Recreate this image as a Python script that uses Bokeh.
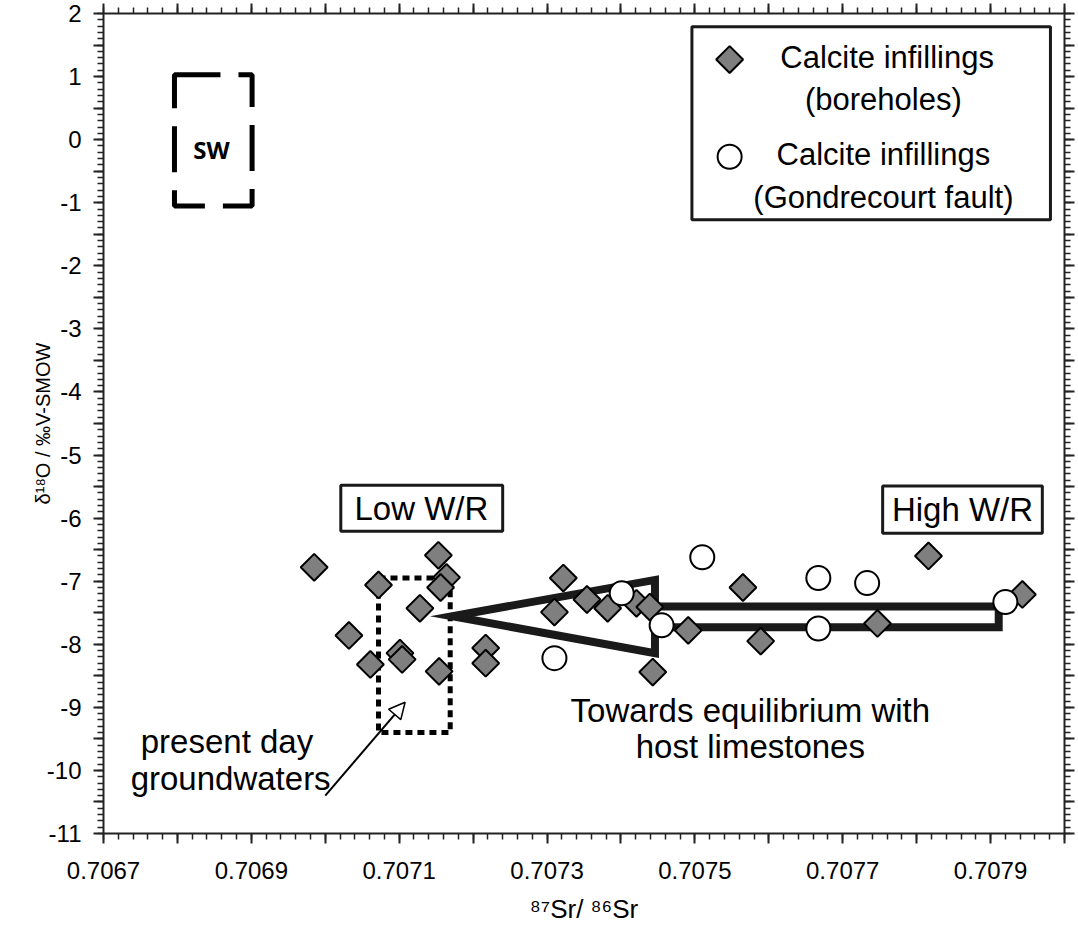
import numpy as np
from bokeh.plotting import figure
from bokeh.models import (Range1d, LinearAxis, FixedTicker, Arrow, NormalHead,
                          CustomJSTickFormatter)
from bokeh.core.properties import value
from bokeh.embed import file_html
from bokeh.resources import INLINE

# ---------------- data ----------------
# Calcite infillings (boreholes)
bh_sr = [0.706985, 0.707032, 0.707061, 0.707072, 0.707101, 0.707104, 0.707128,
         0.707153, 0.707164, 0.707156, 0.707154, 0.707217, 0.707217, 0.707322,
         0.707310, 0.707354, 0.707382, 0.707421, 0.707439, 0.707443, 0.707491,
         0.707565, 0.707589, 0.707747, 0.707816, 0.707943]
bh_d18o = [-6.78, -7.86, -8.32, -7.06, -8.14, -8.24, -7.43,
           -6.59, -6.94, -7.10, -8.43, -8.06, -8.30, -6.95,
           -7.49, -7.29, -7.43, -7.35, -7.41, -8.44, -7.78,
           -7.10, -7.95, -7.67, -6.60, -7.21]
# Calcite infillings (Gondrecourt fault)
gf_sr = [0.707310, 0.707401, 0.707455, 0.707510, 0.707667, 0.707667, 0.707733, 0.707920]
gf_d18o = [-8.22, -7.19, -7.70, -6.62, -6.95, -7.75, -7.03, -7.33]

# axis ticks
x_major_ticks = [round(0.7067 + i * 0.0001, 4) for i in range(14)]
x_minor_ticks = [0.7067 + i * 0.00002 for i in range(66)]
y_major_ticks = [2 - i * 0.5 for i in range(27)]
y_minor_ticks = [2 - i * 0.1 for i in range(131)]

# annotations
big_arrow_x = [0.707172, 0.707446, 0.707446, 0.707911, 0.707911, 0.707446, 0.707446]
big_arrow_y = [-7.556, -6.98, -7.40, -7.40, -7.73, -7.73, -8.14]
gw_box = dict(left=0.707072, right=0.707169, top=-6.95, bottom=-9.40)
sw_box = dict(left=0.706796, right=0.706901, top=1.03, bottom=-1.05)
low_box = dict(left=0.707021, right=0.707240, top=-5.48, bottom=-6.21)
high_box = dict(left=0.707754, right=0.707970, top=-5.49, bottom=-6.24)
leg_box = dict(left=0.707496, right=0.707981, top=1.79, bottom=-1.27)
gw_arrow = dict(x_start=0.707000, y_start=-10.40, x_end=0.707108, y_end=-8.92)

big_txt_x = [0.707130, 0.707862, 0.707575, 0.707575, 0.706867, 0.706872]
big_txt_y = [-5.84, -5.87, -9.05, -9.62, -9.54, -10.13]
big_txt = ["Low W/R", "High W/R", "Towards equilibrium with", "host limestones",
           "present day", "groundwaters"]

leg_txt_x = [0.707760, 0.707755, 0.707755, 0.707755]
leg_txt_y = [1.30, 0.63, -0.24, -0.92]
leg_txt = ["Calcite infillings", "(boreholes)", "Calcite infillings", "(Gondrecourt fault)"]
leg_mark_x = [0.707547]
leg_dia_y = [1.27]
leg_circ_y = [-0.27]

FONT = "Liberation Sans"

p = figure(width=1078, height=926,
           x_range=Range1d(0.7067, 0.7080), y_range=Range1d(-11, 2),
           x_axis_type=None, y_axis_type=None,
           output_backend="svg", toolbar_location=None,
           min_border_left=103, min_border_right=14, min_border_top=13,
           min_border_bottom=93)
p.outline_line_color = None
p.background_fill_color = "white"
p.border_fill_color = "white"

x_ticker = FixedTicker(ticks=x_major_ticks, minor_ticks=x_minor_ticks)
y_ticker = FixedTicker(ticks=y_major_ticks, minor_ticks=y_minor_ticks)
x_fmt = CustomJSTickFormatter(code="""
const k = Math.round(tick*10000);
return (k % 2 == 1) ? tick.toFixed(4) : "";
""")
y_fmt = CustomJSTickFormatter(code="""
return (Math.abs(tick - Math.round(tick)) < 1e-6) ? Math.round(tick).toString() : "";
""")


def style(ax, out_major, out_minor, labels=True):
    ax.axis_line_width = 2
    ax.axis_line_color = "#222222"
    ax.major_tick_line_width = 2
    ax.major_tick_line_color = "#222222"
    ax.minor_tick_line_width = 1.5
    ax.minor_tick_line_color = "#222222"
    ax.major_tick_in = 0
    ax.minor_tick_in = 0
    ax.major_tick_out = out_major
    ax.minor_tick_out = out_minor
    if labels:
        ax.major_label_text_font = FONT
        ax.major_label_text_font_size = "24px"
        ax.major_label_text_color = "black"
    else:
        ax.major_label_text_font_size = "1px"
        ax.major_label_text_color = None
        ax.major_label_standoff = 0
    return ax


bottom = style(LinearAxis(ticker=x_ticker, formatter=x_fmt), 10, 6)
bottom.major_label_standoff = 18
bottom.axis_label = "⁸⁷Sr/ ⁸⁶Sr"
bottom.axis_label_text_font = FONT
bottom.axis_label_text_font_size = "26px"
bottom.axis_label_text_font_style = "normal"
bottom.axis_label_text_color = "black"
bottom.axis_label_standoff = 12

left = style(LinearAxis(ticker=y_ticker, formatter=y_fmt), 10, 6)
left.major_label_standoff = 12
left.axis_label = "δ¹⁸O / ‰V-SMOW"
left.axis_label_text_font = FONT
left.axis_label_text_font_size = "20px"
left.axis_label_text_font_style = "normal"
left.axis_label_text_color = "black"
left.axis_label_standoff = -10

top = style(LinearAxis(ticker=x_ticker, formatter=x_fmt), 10, 6, labels=False)
right = style(LinearAxis(ticker=y_ticker, formatter=y_fmt), 10, 6, labels=False)

p.add_layout(bottom, "below")
p.add_layout(left, "left")
p.add_layout(top, "above")
p.add_layout(right, "right")

# dashed boxes
p.quad(**sw_box, fill_color=None, line_color="black", line_width=5, line_dash="46 18")
p.quad(**gw_box, fill_color=None, line_color="black", line_width=5, line_dash="7 5")

# big outline arrow
p.patch(big_arrow_x, big_arrow_y, fill_color=None, line_color="#1a1a1a",
        line_width=8, line_join="miter")

# W/R boxes and legend box
p.quad(**low_box, fill_color="white", line_color="#1a1a1a", line_width=3)
p.quad(**high_box, fill_color="white", line_color="#1a1a1a", line_width=3)
p.quad(**leg_box, fill_color="white", line_color="#1a1a1a", line_width=3)

# data
p.scatter(bh_sr, bh_d18o, marker="square", angle=np.pi / 4, size=19,
          fill_color="#7f7f7f", line_color="black", line_width=2)
p.scatter(gf_sr, gf_d18o, marker="circle", size=24,
          fill_color="white", line_color="black", line_width=2)

# legend markers
p.scatter(leg_mark_x, leg_dia_y, marker="square", angle=np.pi / 4, size=19,
          fill_color="#7f7f7f", line_color="black", line_width=2)
p.scatter(leg_mark_x, leg_circ_y, marker="circle", size=24,
          fill_color="white", line_color="black", line_width=2)

# texts
p.text(big_txt_x, big_txt_y, text=big_txt, text_font=value(FONT),
       text_font_size="33px", text_align="center", text_baseline="middle",
       text_color="black")
p.text(leg_txt_x, leg_txt_y, text=leg_txt, text_font=value(FONT),
       text_font_size="31px", text_align="center", text_baseline="middle",
       text_color="black")
p.text([0.706846], [-0.16], text=["SW"], text_font=value("Open Sans"),
       text_font_size="24px", text_font_style="bold", text_align="center",
       text_baseline="middle", text_color="black")

p.add_layout(Arrow(end=NormalHead(size=16, fill_color="white", line_color="black",
                                  line_width=1.5),
                   line_color="black", line_width=2, **gw_arrow))

open("out.html", "w").write(file_html(p, INLINE))
